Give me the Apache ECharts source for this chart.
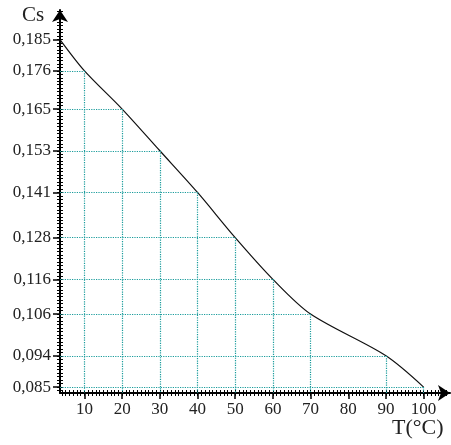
<!DOCTYPE html>
<html>
<head>
<meta charset="utf-8">
<script src="https://cdn.jsdelivr.net/npm/echarts@6/dist/echarts.min.js"></script>
<style>
  html, body { margin: 0; padding: 0; background: #fff; }
  #chart { width: 451px; height: 445px; }
</style>
</head>
<body>
<div id="chart"></div>
<script>
  // temperature (°C) and Cs
  var temps = [3.5, 10, 20, 30, 40, 50, 60, 70, 90, 100];
  var cs = [0.185, 0.176, 0.165, 0.153, 0.141, 0.128, 0.116, 0.106, 0.094, 0.085];
  var xTicks = [10, 20, 30, 40, 50, 60, 70, 80, 90, 100];
  var yTicks = [0.085, 0.094, 0.106, 0.116, 0.128, 0.141, 0.153, 0.165, 0.176, 0.185];

  var xMin = 3.5, xMax = 107;
  var yMin = 0.0833, yMax = 0.1935;
  var font = 'Liberation Serif';
  var teal = '#1a9c9c';

  // small ticks along the axes
  var xFine = [];
  for (var i = 4; i <= 106; i++) xFine.push(i);
  var yFine = [];
  for (var j = 84; j <= 193; j++) yFine.push(j / 1000);

  // dotted drop lines from each point to both axes
  var drops = [];
  for (var k = 1; k < temps.length; k++) {
    drops.push([{ coord: [xMin, cs[k]] }, { coord: [temps[k], cs[k]] }]);
    drops.push([{ coord: [temps[k], cs[k]] }, { coord: [temps[k], yMin] }]);
  }

  var fineAxis = function (values, inside, extra) {
    return Object.assign({
      type: 'value',
      min: extra.min, max: extra.max,
      axisLine: { show: false, onZero: false },
      axisTick: { show: true, customValues: values, inside: inside, length: 3, lineStyle: { color: '#000', width: 1 } },
      axisLabel: { show: false },
      splitLine: { show: false }
    }, extra.pos);
  };

  var chart = echarts.init(document.getElementById('chart'));
  chart.setOption({
    animation: false,
    grid: { left: 60, right: 1, top: 10, bottom: 52 },
    xAxis: [
      {
        type: 'value',
        min: xMin, max: xMax,
        axisLine: { onZero: false, symbol: ['none', 'arrow'], symbolSize: [12, 12], lineStyle: { color: '#000', width: 2 } },
        axisTick: { customValues: xTicks, length: 6, lineStyle: { color: '#000', width: 1.5 } },
        axisLabel: { customValues: xTicks, margin: 8, fontFamily: font, fontSize: 17, color: '#222' },
        splitLine: { show: false }
      },
      fineAxis(xFine, false, { min: xMin, max: xMax, pos: { position: 'bottom' } }),
      fineAxis(xFine, true, { min: xMin, max: xMax, pos: { position: 'bottom' } })
    ],
    yAxis: [
      {
        type: 'value',
        min: yMin, max: yMax,
        axisLine: { onZero: false, symbol: ['none', 'arrow'], symbolSize: [12, 12], lineStyle: { color: '#000', width: 2 } },
        axisTick: { customValues: yTicks, length: 7, lineStyle: { color: '#000', width: 1.5 } },
        axisLabel: {
          customValues: yTicks, margin: 9, fontFamily: font, fontSize: 17, color: '#222',
          formatter: function (v) { return v.toFixed(3).replace('.', ','); }
        },
        splitLine: { show: false }
      },
      fineAxis(yFine, false, { min: yMin, max: yMax, pos: { position: 'left', offset: 0 } }),
      fineAxis(yFine, true, { min: yMin, max: yMax, pos: { position: 'left', offset: 0 } })
    ],
    graphic: [
      { type: 'text', left: 22, top: 5, style: { text: 'Cs', font: '21px "Liberation Serif"', fill: '#222' } },
      { type: 'text', left: 392, top: 417, style: { text: 'T(°C)', font: '22px "Liberation Serif"', fill: '#222' } }
    ],
    series: [
      {
        type: 'line',
        data: temps.map(function (t, i) { return [t, cs[i]]; }),
        smooth: 0.3,
        showSymbol: false,
        lineStyle: { color: '#111', width: 1.2 },
        markLine: {
          silent: true,
          symbol: 'none',
          label: { show: false },
          lineStyle: { color: teal, type: 'dotted', width: 1.2 },
          data: drops
        }
      }
    ]
  });
</script>
</body>
</html>
